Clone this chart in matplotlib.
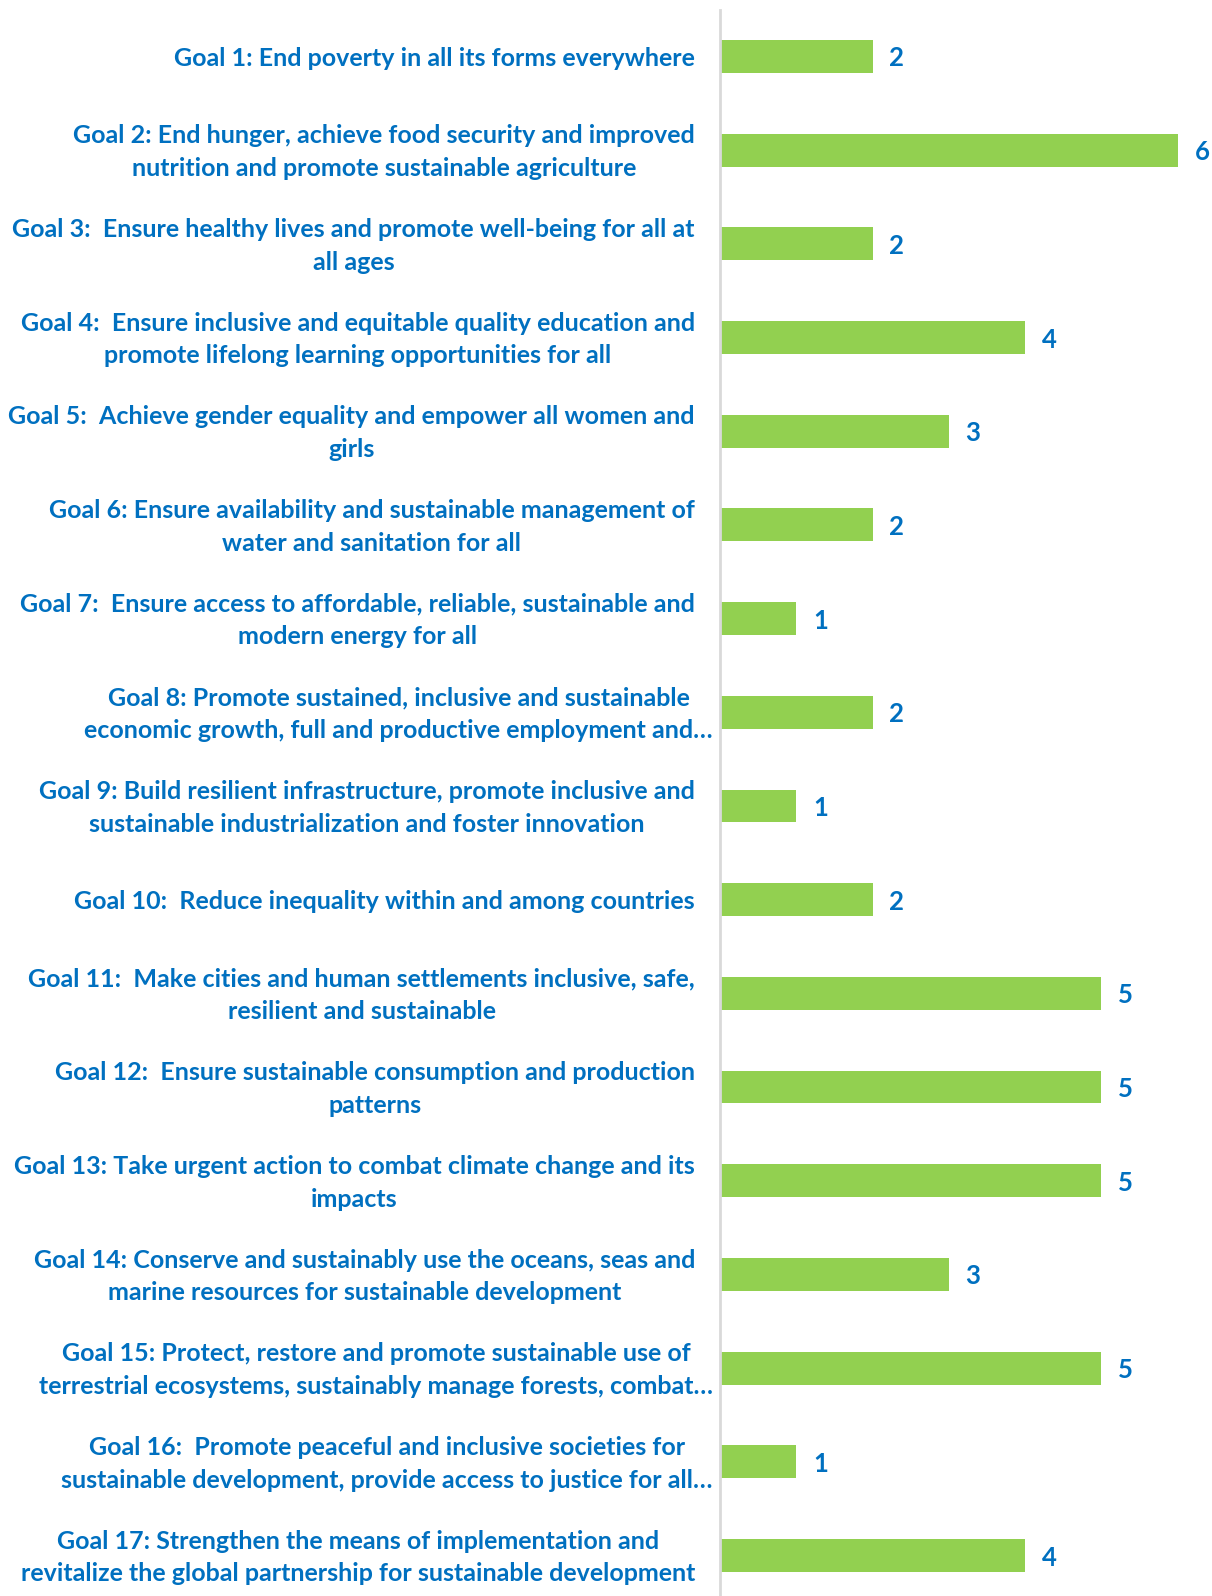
import numpy as np
import matplotlib.pyplot as plt
from matplotlib.transforms import ScaledTranslation

goals = [
    "Goal 1: End poverty in all its forms everywhere",
    "Goal 2: End hunger, achieve food security and improved\nnutrition and promote sustainable agriculture",
    "Goal 3:  Ensure healthy lives and promote well-being for all at\nall ages",
    "Goal 4:  Ensure inclusive and equitable quality education and\npromote lifelong learning opportunities for all",
    "Goal 5:  Achieve gender equality and empower all women and\ngirls",
    "Goal 6: Ensure availability and sustainable management of\nwater and sanitation for all",
    "Goal 7:  Ensure access to affordable, reliable, sustainable and\nmodern energy for all",
    "Goal 8: Promote sustained, inclusive and sustainable\neconomic growth, full and productive employment and…",
    "Goal 9: Build resilient infrastructure, promote inclusive and\nsustainable industrialization and foster innovation",
    "Goal 10:  Reduce inequality within and among countries",
    "Goal 11:  Make cities and human settlements inclusive, safe,\nresilient and sustainable",
    "Goal 12:  Ensure sustainable consumption and production\npatterns",
    "Goal 13: Take urgent action to combat climate change and its\nimpacts",
    "Goal 14: Conserve and sustainably use the oceans, seas and\nmarine resources for sustainable development",
    "Goal 15: Protect, restore and promote sustainable use of\nterrestrial ecosystems, sustainably manage forests, combat…",
    "Goal 16:  Promote peaceful and inclusive societies for\nsustainable development, provide access to justice for all…",
    "Goal 17: Strengthen the means of implementation and\nrevitalize the global partnership for sustainable development",
]
counts = [2, 6, 2, 4, 3, 2, 1, 2, 1, 2, 5, 5, 5, 3, 5, 1, 4]

blue = "#0070C0"
green = "#92D050"

plt.rcParams['font.family'] = ['Lato', 'DejaVu Sans']

fig = plt.figure(figsize=(12.12, 15.96), dpi=100)
ax = fig.add_axes([0.594, -0.004, 0.406, 0.998])

y = np.arange(len(goals))
bars = ax.barh(y, counts, height=0.35, color=green)
ax.set_ylim(len(goals) - 0.5, -0.5)
ax.set_xlim(0, 6.45)

ax.set_yticks(y)
ax.set_yticklabels(goals, fontsize=18, fontweight='bold', color=blue,
                   multialignment='center', linespacing=1.5, va='center')
ax.tick_params(axis='y', length=0, pad=18)
# nudge labels down a touch so they sit on the bar centres
shift = ScaledTranslation(0, -0.02, fig.dpi_scale_trans)
for tick, lab in zip(ax.yaxis.get_major_ticks(), goals):
    if lab.endswith("…"):
        tick.set_pad(5)
    tick.label1.set_transform(tick.label1.get_transform() + shift)
ax.set_xticks([])

for b, v in zip(bars, counts):
    ax.text(v + 0.22, b.get_y() + b.get_height() / 2, str(v),
            va='center_baseline', ha='left', fontsize=18.5, fontweight='bold', color=blue)

for s in ['top', 'right', 'bottom']:
    ax.spines[s].set_visible(False)
ax.spines['left'].set_color('#d9d9d9')
ax.spines['left'].set_linewidth(2)

fig.savefig("out.png", dpi=100)
